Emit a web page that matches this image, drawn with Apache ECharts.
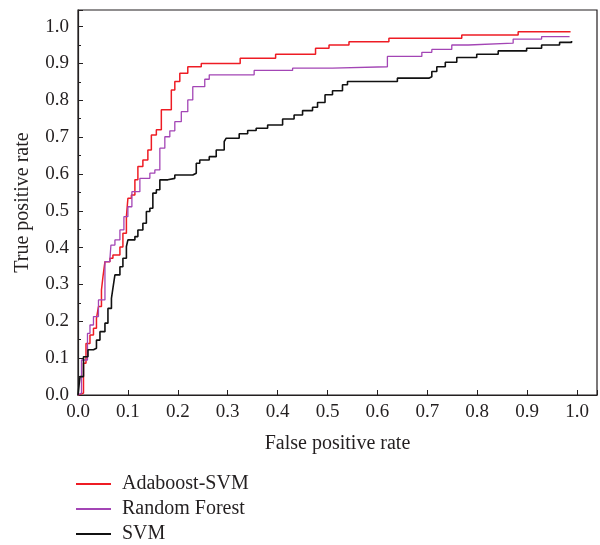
<!DOCTYPE html>
<html>
<head>
<meta charset="utf-8">
<script src="https://cdn.jsdelivr.net/npm/echarts@6/dist/echarts.min.js"></script>
<style>
  html, body { margin: 0; padding: 0; background: #fff; }
  #chartBox { width: 600px; height: 545px; }
</style>
</head>
<body>
<div id="chartBox"></div>
<script>
// ROC curves: [false positive rate, true positive rate]
const adaboostSvm = [
  [0, 0], [0.004, 0.005], [0.011, 0.086], [0.016, 0.14], [0.024, 0.163], [0.031, 0.181],
  [0.037, 0.208], [0.041, 0.24], [0.047, 0.285], [0.05, 0.321], [0.054, 0.362],
  [0.064, 0.371], [0.07, 0.38], [0.084, 0.402], [0.09, 0.439], [0.097, 0.484],
  [0.1, 0.534], [0.107, 0.543], [0.114, 0.584], [0.12, 0.62], [0.13, 0.638],
  [0.14, 0.665], [0.147, 0.706], [0.157, 0.72], [0.167, 0.774], [0.187, 0.828],
  [0.194, 0.851], [0.204, 0.873], [0.22, 0.891], [0.247, 0.9], [0.325, 0.914],
  [0.396, 0.925], [0.476, 0.941], [0.503, 0.95], [0.543, 0.959], [0.623, 0.968],
  [0.769, 0.977], [0.882, 0.986], [0.987, 0.987]
];
const randomForest = [
  [0, 0], [0.004, 0.005], [0.007, 0.095], [0.019, 0.167], [0.024, 0.19], [0.031, 0.213],
  [0.041, 0.258], [0.054, 0.362], [0.064, 0.371], [0.066, 0.407], [0.074, 0.421],
  [0.084, 0.448], [0.092, 0.484], [0.1, 0.511], [0.108, 0.552], [0.124, 0.588],
  [0.144, 0.602], [0.154, 0.611], [0.164, 0.67], [0.174, 0.701], [0.184, 0.717],
  [0.194, 0.742], [0.207, 0.769], [0.22, 0.801], [0.23, 0.837], [0.254, 0.857],
  [0.263, 0.869], [0.353, 0.881], [0.43, 0.887], [0.51, 0.891], [0.62, 0.919],
  [0.689, 0.93], [0.709, 0.938], [0.749, 0.95], [0.782, 0.955], [0.872, 0.966],
  [0.929, 0.973], [0.985, 0.973]
];
const svm = [
  [0, 0], [0.004, 0.05], [0.011, 0.104], [0.02, 0.123], [0.031, 0.127], [0.037, 0.149],
  [0.044, 0.172], [0.054, 0.195], [0.06, 0.235], [0.067, 0.262], [0.07, 0.29],
  [0.074, 0.326], [0.084, 0.348], [0.09, 0.371], [0.097, 0.403], [0.1, 0.421],
  [0.114, 0.43], [0.12, 0.448], [0.13, 0.466], [0.137, 0.498], [0.144, 0.507],
  [0.15, 0.548], [0.157, 0.557], [0.164, 0.584], [0.18, 0.588], [0.194, 0.597],
  [0.23, 0.602], [0.237, 0.629], [0.244, 0.638], [0.263, 0.647], [0.277, 0.665],
  [0.293, 0.688], [0.297, 0.697], [0.323, 0.709], [0.34, 0.718], [0.357, 0.724],
  [0.38, 0.733], [0.41, 0.749], [0.433, 0.76], [0.45, 0.772], [0.47, 0.781],
  [0.48, 0.794], [0.495, 0.815], [0.51, 0.826], [0.53, 0.842], [0.54, 0.851],
  [0.64, 0.86], [0.703, 0.864], [0.709, 0.878], [0.719, 0.891], [0.736, 0.903],
  [0.759, 0.916], [0.799, 0.925], [0.842, 0.934], [0.899, 0.941], [0.929, 0.95],
  [0.965, 0.957], [0.989, 0.961]
];
const seriesNames = ['Adaboost-SVM', 'Random Forest', 'SVM'];

const font = '"Liberation Serif", "DejaVu Serif", serif';
const ink = '#231f20';

let chartDom = document.getElementById('chartBox');
let myChart = echarts.init(chartDom);

function tickLabel(v) {
  return v > 1.0001 ? '' : v.toFixed(1);
}

let option = {
  animation: false,
  grid: {
    left: 78, right: 2, top: 10, bottom: 150,
    show: true, borderColor: ink, borderWidth: 1.2
  },
  legend: {
    orient: 'vertical',
    left: 76, top: 474,
    padding: 0,
    icon: 'rect',
    itemWidth: 35, itemHeight: 2, itemGap: 5,
    data: seriesNames,
    textStyle: { fontFamily: font, fontSize: 20, color: ink, lineHeight: 20, padding: [0, 0, 0, 6] }
  },
  xAxis: {
    type: 'value', min: 0, max: 1.04, interval: 0.1,
    name: 'False positive rate', nameLocation: 'middle', nameGap: 39,
    nameTextStyle: { fontFamily: font, fontSize: 20, color: ink },
    axisLine: { onZero: false, lineStyle: { color: ink, width: 1.2 } },
    axisTick: { inside: true, length: 5, lineStyle: { color: ink } },
    axisLabel: { fontFamily: font, fontSize: 19, color: ink, margin: 8, formatter: tickLabel },
    splitLine: { show: false }
  },
  yAxis: {
    type: 'value', min: 0, max: 1.045, interval: 0.1,
    name: 'True positive rate', nameLocation: 'middle', nameGap: 45,
    nameTextStyle: { fontFamily: font, fontSize: 20, color: ink },
    axisLine: { show: true, onZero: false, lineStyle: { color: ink, width: 1.2 } },
    axisTick: { show: true, inside: true, length: 5, lineStyle: { color: ink } },
    minorTick: { show: true, splitNumber: 2, length: 3, lineStyle: { color: ink } },
    axisLabel: { fontFamily: font, fontSize: 19, color: ink, margin: 9, formatter: tickLabel },
    splitLine: { show: false }
  },
  series: [
    {
      name: seriesNames[0], type: 'line', step: 'end', symbol: 'none',
      lineStyle: { color: '#ee1c24', width: 1.5 }, itemStyle: { color: '#ee1c24' },
      data: adaboostSvm
    },
    {
      name: seriesNames[1], type: 'line', step: 'end', symbol: 'none',
      lineStyle: { color: '#a345b5', width: 1.3 }, itemStyle: { color: '#a345b5' },
      data: randomForest
    },
    {
      name: seriesNames[2], type: 'line', step: 'end', symbol: 'none',
      lineStyle: { color: '#111111', width: 1.6 }, itemStyle: { color: '#111111' },
      data: svm
    }
  ]
};

myChart.setOption(option);
</script>
</body>
</html>
